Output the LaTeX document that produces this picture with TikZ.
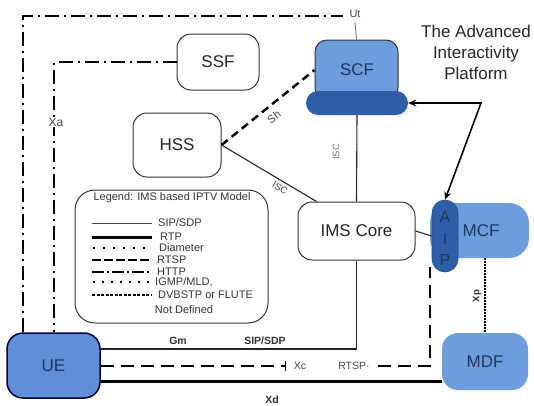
\documentclass[tikz,border=0pt]{standalone}
\usepackage{fontspec}
\setmainfont{Liberation Sans}
\usetikzlibrary{arrows.meta,calc}

\definecolor{lightblue}{HTML}{6D9DDC}
\definecolor{darkblue}{HTML}{2E5EA8}
\definecolor{uefill}{HTML}{5F8FD6}
\definecolor{navytext}{HTML}{1F3560}
\definecolor{edgegray}{HTML}{333333}
\definecolor{labelgray}{HTML}{444444}

\begin{document}
\begin{tikzpicture}[x=1pt,y=-1pt,
  boxfont/.style={font=\fontsize{17}{20}\selectfont},
  plainbox/.style={draw=edgegray, line width=1pt, rounded corners=14pt,
    fill=white, inner sep=0pt, boxfont, text=black!85},
  bluebox/.style={fill=lightblue, inner sep=0pt, rounded corners=16pt,
    boxfont, text=navytext},
  smalllabel/.style={font=\fontsize{10.5}{12}\selectfont, text=labelgray, inner sep=1pt},
  boldlabel/.style={font=\bfseries\fontsize{10.5}{12}\selectfont, text=black!80, inner sep=1pt},
  legendtext/.style={font=\fontsize{11}{13}\selectfont, text=black!80, anchor=west, inner sep=0pt},
  httpline/.style={line width=1.8pt, dash pattern=on 14pt off 5pt on 2pt off 5pt},
  rtspline/.style={line width=2pt, dash pattern=on 13pt off 7pt},
  sipline/.style={line width=1.1pt, draw=black!85},
  rtpline/.style={line width=3pt}
]
\useasboundingbox (0,0) rectangle (534,405);

% ---------- functional entities ----------
\node[plainbox, minimum width=82pt, minimum height=56pt] (ssf) at (218,62) {SSF};
\node[plainbox, minimum width=88pt, minimum height=64pt] (hss) at (177,145) {HSS};
\node[plainbox, minimum width=117pt, minimum height=58pt] (ims) at (356.5,231) {IMS Core};

% SCF: light head on a dark stadium-shaped base
\node[fill=lightblue, draw=edgegray, line width=1pt, rounded corners=12pt,
  minimum width=83pt, minimum height=60pt, inner sep=0pt] (scf) at (356.5,70) {};
\node[fill=darkblue, rounded corners=12pt, minimum width=102pt,
  minimum height=24pt, inner sep=0pt] (scfbar) at (357,103) {};
\node[boxfont, text=navytext] at (357,70) {SCF};

% MCF with its AIP front end
\node[bluebox, rounded corners=20pt, minimum width=99pt, minimum height=55pt] (mcf) at (479.5,230.5) {};
\node[boxfont, text=navytext] at (481,231) {MCF};
\node[fill=darkblue, draw=darkblue!80!black, line width=0.6pt, rounded corners=13pt,
  minimum width=26pt, minimum height=72pt, inner sep=0pt] (aip) at (445,236) {};
\node[align=center, text=navytext, font=\fontsize{16}{21.5}\selectfont] at (445,238.5) {A\\I\\P};

% UE and MDF
\node[fill=uefill, draw=black!75!blue, line width=1.5pt, rounded corners=16pt,
  minimum width=93pt, minimum height=65pt, inner sep=0pt, boxfont, text=navytext] (ue) at (53.5,365.5) {UE};
\node[bluebox, minimum width=86pt, minimum height=57pt] (mdf) at (485,361.5) {MDF};

% platform caption
\node[align=center, font=\fontsize{17}{21}\selectfont, text=black!85] (aiptitle) at (476,52)
  {The Advanced\\Interactivity\\Platform};

% ---------- HTTP (Ut / Xa) ----------
\coordinate (utend) at (343,16);
\draw[httpline] ([xshift=17pt]ue.north west) |- (utend);
\node[smalllabel, font=\fontsize{11}{13}\selectfont] (ut) at (355,14) {Ut};
\draw[line width=0.8pt, draw=black!60] ([yshift=-3pt]ut.south) -- (scf.north);

\draw[httpline] (ssf.west) -| ([xshift=48pt]ue.north west);
\node[smalllabel, fill=white, font=\fontsize{12}{14}\selectfont] (xa) at (56,122) {Xa};

% ---------- Sh and ISC ----------
\draw[line width=2.5pt, dash pattern=on 8pt off 5pt] (hss.east) -- (scf.west);
\node[smalllabel, rotate=37, font=\fontsize{11}{13}\selectfont] at (274,117) {Sh};

\draw[sipline] (hss.east) -- ([xshift=19pt]ims.north west);
\node[smalllabel, rotate=-30, font=\fontsize{9.5}{11}\selectfont] at (280,188) {ISC};

\draw[sipline] (scfbar.south) -- (ims.north);
\node[smalllabel, rotate=90, text=black!55, font=\fontsize{9.5}{11}\selectfont] at (336,152) {ISC};

\draw[sipline] (ims.east) -- (aip.west);

% SCF <-> AIP
\coordinate (bend) at (481,103);
\draw[line width=1.6pt, {Stealth[length=8pt,width=7pt]}-{Stealth[length=8pt,width=7pt]}]
  (scfbar.east) -- (bend) -- (aip.north);

% ---------- Gm (SIP/SDP) ----------
\coordinate (gmrow) at (0,349);
\draw[sipline] (ims.south) |- (ue.east |- gmrow);
\node[boldlabel] at (178,341) {Gm};
\node[boldlabel] at (265,341) {SIP/SDP};

% ---------- Xc (RTSP) ----------
\coordinate (rtrow) at (0,366);
\coordinate (xctick) at (285,366);
\draw[rtspline] (ue.east |- rtrow) -- (xctick);
\draw[line width=0.8pt] ([yshift=5pt]xctick) -- ([yshift=-5pt]xctick);
\node[smalllabel] at (300,366) {Xc};
\node[smalllabel] (rtsplbl) at (354,366) {RTSP·};
\coordinate (rtspright) at (378,366);
\draw[rtspline] (rtspright) -| ([xshift=-2pt,yshift=5pt]aip.south west);

% ---------- Xd (RTP) ----------
\coordinate (xdrow) at (0,381);
\draw[rtpline] (ue.east |- xdrow) -- (mdf.west |- xdrow);
\node[boldlabel] at (272,400) {Xd};

% ---------- Xp ----------
\draw[line width=2pt, dash pattern=on 1.5pt off 1.5pt] (mdf.north |- mcf.south) -- (mdf.north);
\node[boldlabel, rotate=90, font=\bfseries\fontsize{9.5}{11}\selectfont] at (477,296) {Xp};

% ---------- legend ----------
\node[draw=edgegray, line width=1pt, rounded corners=20pt, minimum width=193pt,
  minimum height=133pt, inner sep=0pt] (legend) at (171.5,256.5) {};
\node[font=\fontsize{11}{13}\selectfont, text=black!80] at (172,198) {Legend: IMS based IPTV Model};

\draw[line width=1pt, draw=black!70] (92,223) -- (152,223);
\node[legendtext] at (158,223) {SIP/SDP};
\draw[rtpline] (92,237) -- (152,237);
\node[legendtext] at (160,237) {RTP};
\draw[line width=2pt, dash pattern=on 2pt off 8pt] (93,248) -- (152,248);
\node[legendtext] at (159,248) {Diameter};
\draw[line width=1.2pt, dash pattern=on 9pt off 3pt] (92,260) -- (152,260);
\node[legendtext] at (157,260) {RTSP};
\draw[line width=1.2pt, dash pattern=on 12pt off 3pt on 2pt off 3pt] (92,272) -- (152,272);
\node[legendtext] at (157,272) {HTTP};
\draw[line width=2pt, dash pattern=on 2pt off 7pt] (93,282) -- (155,282);
\node[legendtext] at (155,282) {IGMP/MLD,};
\draw[line width=1.4pt, dash pattern=on 3pt off 1.5pt] (92,295) -- (152,295);
\node[legendtext] at (158,295) {DVBSTP or FLUTE};
\node[font=\fontsize{11}{13}\selectfont, text=black!80] at (184,310) {Not Defined};
\end{tikzpicture}
\end{document}
